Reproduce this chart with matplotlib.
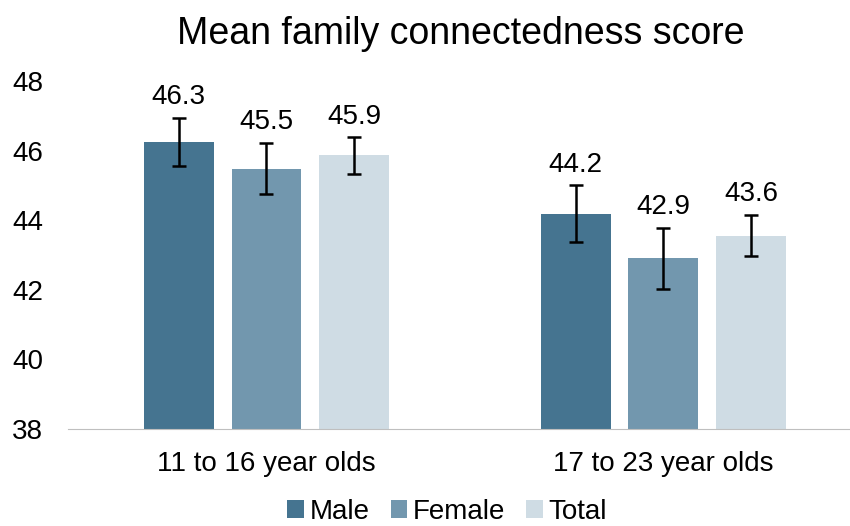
import matplotlib.pyplot as plt
import numpy as np

plt.rcParams["font.family"] = ["Liberation Sans", "DejaVu Sans"]

groups = ["11 to 16 year olds", "17 to 23 year olds"]
series = ["Male", "Female", "Total"]
means = {
    "Male": [46.25, 44.18],
    "Female": [45.48, 42.91],
    "Total": [45.86, 43.56],
}
labels = {
    "Male": ["46.3", "44.2"],
    "Female": ["45.5", "42.9"],
    "Total": ["45.9", "43.6"],
}
errors = {
    "Male": [0.7, 0.82],
    "Female": [0.74, 0.88],
    "Total": [0.52, 0.6],
}
colors = {"Male": "#457490", "Female": "#7297AE", "Total": "#CFDCE4"}

fig = plt.figure(figsize=(8.5, 5.26), dpi=100)
ax = fig.add_axes([0.08, 0.1844, 0.92, 0.6616])

x = np.arange(len(groups))
width = 0.176
step = 0.221

for i, name in enumerate(series):
    pos = x + (i - 1) * step
    ax.bar(pos, [m - 38 for m in means[name]], width, bottom=38,
           color=colors[name], label=name, zorder=2)
    ax.errorbar(pos, means[name], yerr=errors[name], fmt="none",
                ecolor="black", elinewidth=1.8, capsize=5, capthick=1.8, zorder=3)
    for p, m, e, lab in zip(pos, means[name], errors[name], labels[name]):
        ax.text(p, m + e + 0.22, lab, ha="center", va="bottom", fontsize=20)

ax.set_ylim(38, 48)
ax.set_yticks(range(38, 49, 2))
ax.set_xlim(-0.5, 1.47)
ax.set_xticks(x)
ax.set_xticklabels(groups)
ax.tick_params(axis="both", length=0, labelsize=20)
ax.tick_params(axis="x", pad=16)
ax.tick_params(axis="y", pad=18)

for side in ["top", "right", "left"]:
    ax.spines[side].set_visible(False)
ax.spines["bottom"].set_color("#BFBFBF")

fig.text(0.542, 1 - 34 / 526, "Mean family connectedness score", fontsize=27,
         ha="center", va="center")

fig.legend(loc="center", bbox_to_anchor=(0.526, 1 - 512 / 526), ncol=3, frameon=False,
           fontsize=20, handlelength=0.6, handleheight=0.6, handletextpad=0.2,
           columnspacing=0.75, borderaxespad=0, borderpad=0)

fig.savefig("out.png")
